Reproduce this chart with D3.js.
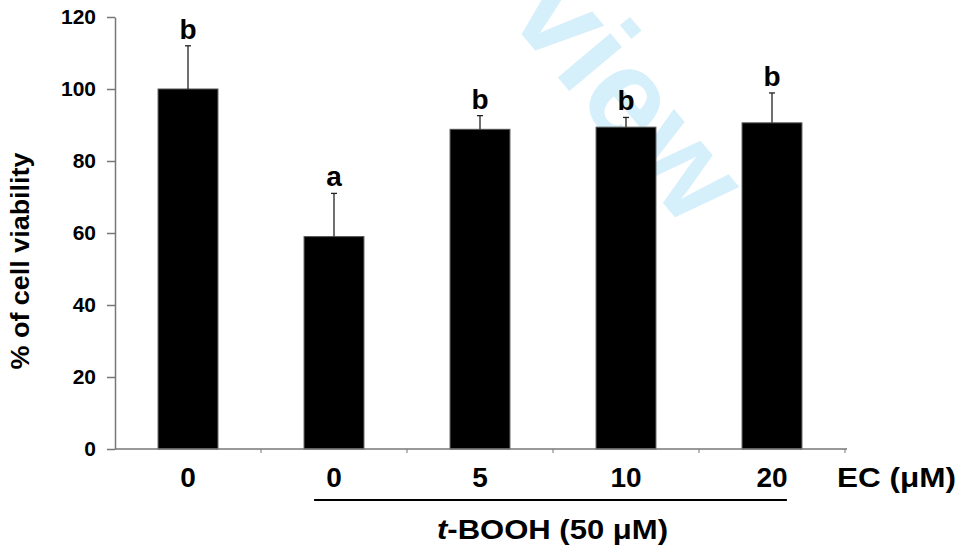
<!DOCTYPE html>
<html>
<head>
<meta charset="utf-8">
<script src="https://cdn.jsdelivr.net/npm/d3@7"></script>
<style>
  html, body { margin: 0; padding: 0; background: #fff; }
  svg { display: block; }
  text { font-family: "Liberation Sans", Arial, sans-serif; font-weight: bold; }
</style>
</head>
<body>
<svg id="chart" width="963" height="551"></svg>
<script>
// ---- data ----
const categories = ["0", "0", "5", "10", "20"];
const viability = [100, 59, 88.8, 89.4, 90.6];
const errorUp = [12, 12, 3.8, 2.7, 8.3];
const sigLetters = ["b", "a", "b", "b", "b"];
const yTicks = [0, 20, 40, 60, 80, 100, 120];
const xAxisUnit = "EC (\u03bcM)";
const groupLabel = "t-BOOH (50 \u03bcM)";
const yTitle = "% of cell viability";

// ---- layout ----
const svg = d3.select("#chart");
const plotLeft = 115, plotRight = 845, plotTop = 17, plotBottom = 449;

const x = d3.scaleBand()
  .domain(d3.range(categories.length))
  .range([plotLeft, plotRight])
  .paddingInner(0.59)
  .paddingOuter(0.295);
const y = d3.scaleLinear().domain([0, 120]).range([plotBottom, plotTop]);

// watermark (behind)
svg.append("text")
  .attr("transform", "translate(596,123) rotate(50)")
  .attr("text-anchor", "middle")
  .style("font-size", "130px")
  .attr("fill", "#d5effb")
  .text("view");

// bars
svg.append("g").selectAll("rect")
  .data(viability)
  .join("rect")
  .attr("x", (d, i) => x(i))
  .attr("y", d => y(d))
  .attr("width", x.bandwidth())
  .attr("height", d => y(0) - y(d))
  .attr("fill", "#000")
  .attr("stroke", "#555")
  .attr("stroke-width", 1);

// error bars (upper only)
const eb = svg.append("g").attr("stroke", "#222").attr("stroke-width", 1.3);
viability.forEach((v, i) => {
  const cx = x(i) + x.bandwidth() / 2;
  eb.append("line").attr("x1", cx).attr("x2", cx).attr("y1", y(v)).attr("y2", y(v + errorUp[i]));
  eb.append("line").attr("x1", cx - 3).attr("x2", cx + 3).attr("y1", y(v + errorUp[i])).attr("y2", y(v + errorUp[i]));
});

// significance letters
svg.append("g").selectAll("text")
  .data(sigLetters)
  .join("text")
  .attr("x", (d, i) => x(i) + x.bandwidth() / 2)
  .attr("y", (d, i) => y(viability[i] + errorUp[i]) - 7)
  .attr("text-anchor", "middle")
  .style("font-size", "28px")
  .attr("fill", "#000")
  .text(d => d);

// y axis
const yAxis = svg.append("g")
  .attr("transform", `translate(${plotLeft},0)`)
  .call(d3.axisLeft(y).tickValues(yTicks).tickSize(8).tickSizeOuter(0).tickPadding(11));
yAxis.select(".domain").attr("stroke", "#777").attr("stroke-width", 1.5);
yAxis.selectAll(".tick line").attr("stroke", "#777").attr("stroke-width", 1.5);
yAxis.selectAll(".tick text")
  .style("font-size", "21px")
  .style("font-family", "'Liberation Sans', Arial, sans-serif")
  .style("font-weight", "bold")
  .attr("fill", "#000");

// x axis line and boundary ticks
const xg = svg.append("g");
xg.append("line")
  .attr("x1", plotLeft).attr("x2", plotRight + 2)
  .attr("y1", plotBottom).attr("y2", plotBottom)
  .attr("stroke", "#777").attr("stroke-width", 1.5);
d3.range(1, categories.length + 1).forEach(i => {
  const tx = plotLeft + x.step() * i;
  xg.append("line")
    .attr("x1", tx).attr("x2", tx)
    .attr("y1", plotBottom).attr("y2", plotBottom + 4)
    .attr("stroke", "#777").attr("stroke-width", 1);
});

// category labels
svg.append("g").selectAll("text")
  .data(categories)
  .join("text")
  .attr("x", (d, i) => x(i) + x.bandwidth() / 2)
  .attr("y", 487)
  .attr("text-anchor", "middle")
  .style("font-size", "28px")
  .attr("fill", "#000")
  .text(d => d);

// unit label
svg.append("text")
  .attr("x", 837).attr("y", 487)
  .attr("textLength", 119)
  .attr("lengthAdjust", "spacingAndGlyphs")
  .style("font-size", "28px")
  .attr("fill", "#000")
  .text(xAxisUnit);

// group bracket line
svg.append("line")
  .attr("x1", x(1) + 10).attr("x2", x(4) + x.bandwidth() - 15)
  .attr("y1", 500).attr("y2", 500)
  .attr("stroke", "#000").attr("stroke-width", 2.2);

// group label
const gl = svg.append("text")
  .attr("x", 437).attr("y", 539)
  .attr("textLength", 231)
  .attr("lengthAdjust", "spacingAndGlyphs")
  .style("font-size", "28px")
  .attr("fill", "#000");
gl.append("tspan").style("font-style", "italic").text(groupLabel.slice(0, 1));
gl.append("tspan").text(groupLabel.slice(1));

// y title
svg.append("text")
  .attr("transform", "translate(29,261) rotate(-90)")
  .attr("text-anchor", "middle")
  .attr("textLength", 217)
  .attr("lengthAdjust", "spacingAndGlyphs")
  .style("font-size", "25px")
  .attr("fill", "#000")
  .text(yTitle);
</script>
</body>
</html>
